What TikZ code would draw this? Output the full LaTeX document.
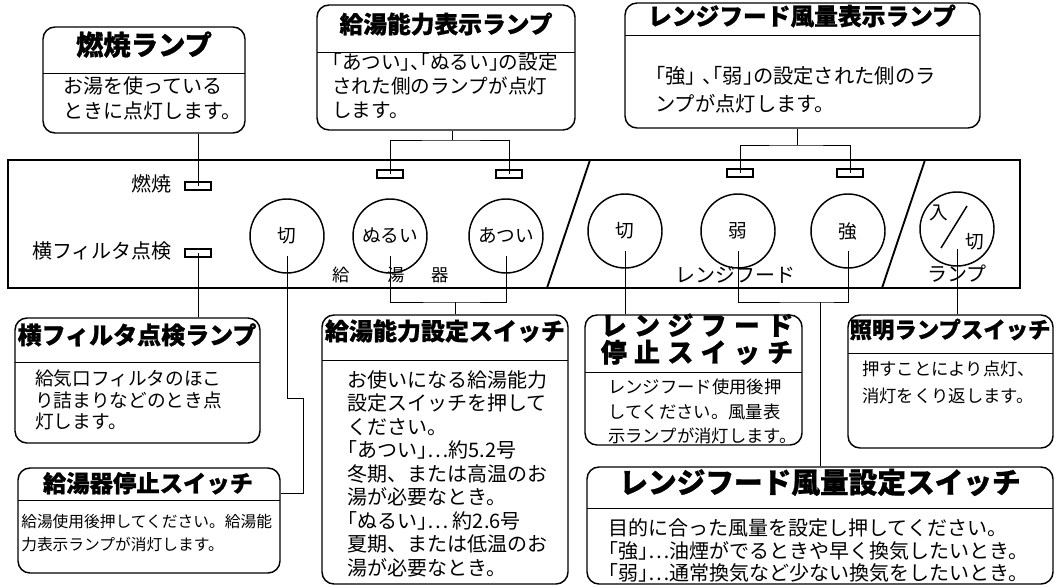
\documentclass[tikz,border=0pt]{standalone}
\usepackage{fontspec}
\usepackage{graphicx}
\setmainfont{Noto Sans CJK JP}[BoldFeatures={FakeBold=0.8}]
\newfontfamily\jph[RawFeature=+halt]{Noto Sans CJK JP}
\usetikzlibrary{fit}
\newcommand\fsz[1]{\fontsize{#1pt}{#1pt}\selectfont}
\tikzset{
 panelbox/.style={draw, line width=2.2pt, inner sep=0pt},
 box/.style={draw, line width=1.1pt, rounded corners=9pt, inner sep=0pt},
 sepline/.style={line width=0.5pt},
 lamp/.style={draw, line width=1.1pt, inner sep=0pt},
 btn/.style={draw, circle, line width=1.1pt, minimum size=55.5pt, inner sep=0pt, font=\fsz{14}},
 wire/.style={line width=0.6pt},
 txt/.style={inner sep=0pt, text height=0.88em, text depth=0.12em},
 ln/.style={txt, anchor=west},
}
\begin{document}
\begin{tikzpicture}[x=0.75pt,y=-0.75pt]
\useasboundingbox (0,0) rectangle (1056,585);
\fill[white] (0,0) rectangle (1056,585);

% ---------- panel ----------
\node[panelbox, fit={(8,160)(1020,288)}] (panel) {};
\draw[line width=1.4pt] (590,160) -- (547,288);
\draw[line width=1.4pt] (925,160) -- (882,288);

\node[txt, anchor=east, font=\fsz{15}] (lbA) at (172,186) {燃焼};
\node[txt, anchor=east, font=\fsz{15}] (lbB) at (172,253) {横フィルタ点検};

\node[lamp, fit={(185,182)(211,190)}] (lmA) {};
\node[lamp, fit={(185,249)(211,257)}] (lmB) {};
\node[lamp, fit={(377,170)(403,178)}] (lmC) {};
\node[lamp, fit={(496,170)(522,178)}] (lmD) {};
\node[lamp, fit={(727,169)(753,177)}] (lmE) {};
\node[lamp, fit={(837,169)(863,177)}] (lmF) {};

\node[btn] (bA) at (287,236) {切};
\node[btn] (bB) at (390,236) {ぬるい};
\node[btn] (bC) at (506,236) {あつい};
\node[btn] (bD) at (625,231) {切};
\node[btn] (bE) at (738,231) {弱};
\node[btn] (bF) at (848,231) {強};
\node[btn] (bG) at (957,229) {};
\draw[line width=1.1pt] ([shift={(-16,19)}]bG.center) -- ([shift={(10,-23)}]bG.center);
\node[txt, font=\fsz{14}] (bGa) at (939,214) {入};
\node[txt, font=\fsz{14}] (bGb) at (975,243) {切};

\node[txt, font=\fsz{13}] (kA) at (341,276) {給};
\node[txt, font=\fsz{13}] (kB) at (396,276) {湯};
\node[txt, font=\fsz{13}] (kC) at (440,276) {器};
\node[txt, font=\fsz{15}] (kD) at (735,277) {レンジフード};
\node[txt, font=\fsz{15}] (kE) at (957,276) {ランプ};

% ---------- callout 1 ----------
\node[box, fit={(43,27)(245,133)}] (c1) {};
\draw[sepline] (43,73) -- (245,73);
\node[txt, font=\fsz{20.5}\bfseries] (c1t) at (144,50) {燃焼ランプ};
\node[ln, font=\fsz{15}] (c1a) at (63,88) {お湯を使っている};
\node[ln, font=\fsz{15}] (c1b) at (63,113) {ときに点灯します。};

% ---------- callout 2 ----------
\node[box, fit={(317,5)(575,130)}] (c2) {};
\draw[sepline] (317,52) -- (575,52);
\node[txt, font=\fsz{17.8}\bfseries] (c2t) at (446,28) {給湯能力表示ランプ};
\node[ln, font=\fsz{14.7}] (c2a) at (332,64) {\jph 「あつい」、「ぬるい」の設定};
\node[ln, font=\fsz{14.7}] (c2b) at (332,88) {された側のランプが点灯};
\node[ln, font=\fsz{14.7}] (c2c) at (332,112) {します。};

% ---------- callout 3 ----------
\node[box, fit={(625,3)(980,128)}] (c3) {};
\draw[sepline] (625,35) -- (980,35);
\node[txt, font=\fsz{17.8}\bfseries] (c3t) at (802,20) {レンジフード風量表示ランプ};
\node[ln, font=\fsz{15.2}] (c3a) at (655,78) {{\jph 「強」}\hspace{5pt}{\jph 、「弱」}の設定された側のラ};
\node[ln, font=\fsz{15.2}] (c3b) at (655,106) {ンプが点灯します。};

% ---------- callout 4 ----------
\node[box, fit={(15,318)(260,443)}] (c4) {};
\draw[sepline] (15,362) -- (260,362);
\node[txt, font=\fsz{18}\bfseries] (c4t) at (137,339) {横フィルタ点検ランプ};
\node[ln, font=\fsz{14}] (c4a) at (35,380) {給気口フィルタのほこ};
\node[ln, font=\fsz{14}] (c4b) at (35,402) {り詰まりなどのとき点};
\node[ln, font=\fsz{14}] (c4c) at (35,423) {灯します。};

% ---------- callout 5 ----------
\node[box, fit={(18,468)(280,573)}] (c5) {};
\draw[sepline] (18,500) -- (280,500);
\node[txt, font=\fsz{17.5}\bfseries] (c5t) at (148,487) {給湯器停止スイッチ};
\node[ln, font=\fsz{11.8}] (c5a) at (21,522) {給湯使用後押してください。給湯能};
\node[ln, font=\fsz{11.8}] (c5b) at (21,545) {力表示ランプが消灯します。};

% ---------- callout 6 ----------
\node[box, fit={(322,315)(568,584)}] (c6) {};
\draw[sepline] (322,360) -- (568,360);
\node[txt, font=\fsz{18}\bfseries] (c6t) at (445,335) {給湯能力設定スイッチ};
\node[ln, font=\fsz{15}] (c6a) at (347,382) {お使いになる給湯能力};
\node[ln, font=\fsz{15}] (c6b) at (347,405.5) {設定スイッチを押して};
\node[ln, font=\fsz{15}] (c6c) at (347,429) {ください。};
\node[ln, font=\fsz{15}] (c6d) at (347,452.5) {{\jph 「あつい」}…約5.2号};
\node[ln, font=\fsz{15}] (c6e) at (347,476) {冬期、または高温のお};
\node[ln, font=\fsz{15}] (c6f) at (347,499.5) {湯が必要なとき。};
\node[ln, font=\fsz{15}] (c6g) at (347,523) {{\jph 「ぬるい」}…\ 約2.6号};
\node[ln, font=\fsz{15}] (c6h) at (347,546.5) {夏期、または低温のお};
\node[ln, font=\fsz{15}] (c6i) at (347,570) {湯が必要なとき。};

% ---------- callout 7 ----------
\node[box, fit={(585,315)(802,445)}] (c7) {};
\draw[sepline] (585,372) -- (802,372);
\node[txt, font=\fsz{19.5}\bfseries\addfontfeature{LetterSpace=28}] (c7t) at (697,330) {レンジフード};
\node[txt, font=\fsz{19.5}\bfseries\addfontfeature{LetterSpace=28}] (c7u) at (697,357) {停止スイッチ};
\node[ln, font=\fsz{13}] (c7a) at (608,388) {レンジフード使用後押};
\node[ln, font=\fsz{13}] (c7b) at (608,413) {してください。風量表};
\node[ln, font=\fsz{13}] (c7c) at (608,437) {示ランプが消灯します。};

% ---------- callout 8 ----------
\node[box, fit={(848,315)(1053,448)}] (c8) {};
\draw[sepline] (848,353) -- (1053,353);
\node[txt, font=\fsz{16.8}\bfseries] (c8t) at (950,333) {照明ランプスイッチ};
\node[ln, font=\fsz{13}] (c8a) at (862,370) {押すことにより点灯、};
\node[ln, font=\fsz{13}] (c8b) at (862,397) {消灯をくり返します。};

% ---------- callout 9 ----------
\node[box, fit={(587,467)(1053,584)}] (c9) {};
\draw[sepline] (587,508) -- (1053,508);
\node[txt, font=\fsz{21.5}\bfseries] (c9t) at (820,488) {レンジフード風量設定スイッチ};
\node[ln, font=\fsz{15}] (c9a) at (608,530) {目的に合った風量を設定し押してください。};
\node[ln, font=\fsz{15}] (c9b) at (608,553) {{\jph 「強」}…油煙がでるときや早く換気したいとき。};
\node[ln, font=\fsz{15}] (c9c) at (608,575) {{\jph 「弱」}…通常換気など少ない換気をしたいとき。};

% ---------- connectors ----------
\draw[wire] (lmA.center) -- (lmA.center |- c1.south);
\draw[wire] (lmB.center) -- (lmB.center |- c4.north);
\coordinate (kc) at (452,140);
\draw[wire] (lmC.center) |- (kc) -| (lmD.center);
\draw[wire] (kc) -- (kc |- c2.south);
\coordinate (ke) at (797,145);
\draw[wire] (lmE.center) |- (ke) -| (lmF.center);
\draw[wire] (ke) -- (ke |- c3.south);

\coordinate (pA) at ([yshift=-15pt]bA.center);
\coordinate (pB) at ([yshift=-15pt]bB.center);
\coordinate (pC) at ([yshift=-15pt]bC.center);
\coordinate (pD) at ([yshift=-15pt]bD.center);
\coordinate (pE) at ([yshift=-15pt]bE.center);
\coordinate (pF) at ([yshift=-15pt]bF.center);
\coordinate (pG) at ([yshift=-15pt]bG.center);
\coordinate (mA) at (303,398);
\coordinate (mB) at (303,493);
\draw[wire] (pA) |- (mA) -- (mB) -- (mB -| c5.east);
\coordinate (jB) at (455,302);
\draw[wire] (pB) |- (jB) -| (pC);
\draw[wire] (jB) -- (jB |- c6.north);
\draw[wire] (pD) -- (pD |- c7.north);
\coordinate (jE) at (820,302);
\draw[wire] (pE) |- (jE) -| (pF);
\draw[wire] (jE) -- (jE |- c9.north);
\draw[wire] (pG) -- (pG |- c8.north);
\end{tikzpicture}
\end{document}
